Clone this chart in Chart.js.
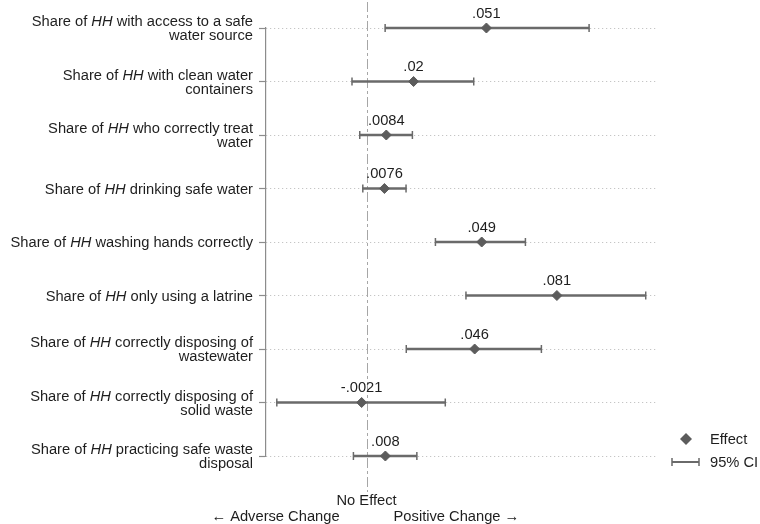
<!DOCTYPE html>
<html>
<head>
<meta charset="utf-8">
<script src="https://cdn.jsdelivr.net/npm/chart.js@4.4.1/dist/chart.umd.min.js"></script>
<style>
  html, body { margin: 0; padding: 0; background: #ffffff; }
  #wrap { width: 760px; height: 524px; }
</style>
</head>
<body>
<div id="wrap"><canvas id="c" width="760" height="524"></canvas></div>
<script>
// Outcome labels (each entry is a list of wrapped lines; "HH" is set in italics)
const categories = [
  ['Share of HH with access to a safe', 'water source'],
  ['Share of HH with clean water', 'containers'],
  ['Share of HH who correctly treat', 'water'],
  ['Share of HH drinking safe water'],
  ['Share of HH washing hands correctly'],
  ['Share of HH only using a latrine'],
  ['Share of HH correctly disposing of', 'wastewater'],
  ['Share of HH correctly disposing of', 'solid waste'],
  ['Share of HH practicing safe waste', 'disposal']
];

// Point estimates and 95% confidence bounds
const effects = [0.051, 0.02, 0.0084, 0.0076, 0.049, 0.081, 0.046, -0.0021, 0.008];
const ciLower = [0.0079, -0.0062, -0.0029, -0.0016, 0.0293, 0.0423, 0.0169, -0.0382, -0.0056];
const ciUpper = [0.0947, 0.0456, 0.0195, 0.0168, 0.0676, 0.1188, 0.0744, 0.0335, 0.0214];

// Horizontal axis extent
const xRange = [-0.0428, 0.1236];

const legendLabels = ['Effect', '95% CI'];
const zeroLabel = 'No Effect';
const directionLabels = ['\u2190 Adverse Change', 'Positive Change \u2192'];

// ---- styling ----
const FONT_FAMILY = '"Liberation Sans", Arial, Helvetica, sans-serif';
const FS = 14.7;
const HALF_CAP = FS * 0.36;
const TEXT = '#1e1e1e';
const MARK = '#5c5c5c';
const CI_COLOR = '#6a6a6a';
const fontOf = (italic) => (italic ? 'italic ' : '') + FS + 'px ' + FONT_FAMILY;

// "Share of .05" style number formatting (no leading zero)
const fmt = (v) => String(v).replace(/^(-?)0\./, '$1.');

// Draw a line of text right-aligned, with the "HH" token in italics
function drawRichRight(ctx, text, xRight, yMid) {
  const parts = text.split(/(HH)/).filter(s => s.length);
  const widths = parts.map(p => { ctx.font = fontOf(p === 'HH'); return ctx.measureText(p).width; });
  let x = xRight - widths.reduce((a, b) => a + b, 0);
  ctx.textAlign = 'left';
  ctx.textBaseline = 'alphabetic';
  parts.forEach((p, i) => {
    ctx.font = fontOf(p === 'HH');
    ctx.fillText(p, x, yMid + HALF_CAP);
    x += widths[i];
  });
}

function diamond(ctx, x, y, r) {
  ctx.beginPath();
  ctx.moveTo(x, y - r);
  ctx.lineTo(x + r, y);
  ctx.lineTo(x, y + r);
  ctx.lineTo(x - r, y);
  ctx.closePath();
  ctx.fill();
}

const annotate = {
  id: 'annotate',
  beforeDatasetsDraw(chart) {
    // dashed "no effect" reference line at zero
    const { ctx, chartArea, scales: { x } } = chart;
    const zx = Math.round(x.getPixelForValue(0)) + 0.5;
    ctx.save();
    ctx.strokeStyle = '#a6a6a6';
    ctx.lineWidth = 1;
    ctx.setLineDash([10, 3, 3, 3]);
    ctx.beginPath();
    ctx.moveTo(zx, chartArea.top - 26);
    ctx.lineTo(zx, chartArea.bottom + 36);
    ctx.stroke();
    ctx.restore();
  },
  afterDraw(chart) {
    const { ctx, chartArea, scales: { x, y } } = chart;
    ctx.save();
    ctx.fillStyle = TEXT;

    // category labels
    const labelRight = chartArea.left - 13;
    categories.forEach((lines, i) => {
      const cy = y.getPixelForValue(i);
      const lh = 14;
      const top = cy - (lines.length - 1) * lh / 2;
      lines.forEach((ln, k) => drawRichRight(ctx, ln, labelRight, top + k * lh));
    });

    // value labels above each estimate
    ctx.font = fontOf(false);
    ctx.textAlign = 'center';
    ctx.textBaseline = 'alphabetic';
    effects.forEach((v, i) => {
      ctx.fillText(fmt(v), x.getPixelForValue(v), y.getPixelForValue(i) - 10.5);
    });

    // zero label and direction hints
    const zx = x.getPixelForValue(0);
    ctx.fillText(zeroLabel, zx, chartArea.bottom + 44 + HALF_CAP);
    ctx.textAlign = 'right';
    ctx.fillText(directionLabels[0], zx - 27, chartArea.bottom + 60 + HALF_CAP);
    ctx.textAlign = 'left';
    ctx.fillText(directionLabels[1], zx + 27, chartArea.bottom + 60 + HALF_CAP);

    // legend
    const lx = chartArea.right + 29;
    const ly1 = chartArea.bottom - 17;
    const ly2 = chartArea.bottom + 6;
    ctx.fillStyle = MARK;
    diamond(ctx, lx, ly1, 6);
    ctx.strokeStyle = CI_COLOR;
    ctx.lineWidth = 2;
    ctx.beginPath();
    ctx.moveTo(lx - 14, ly2); ctx.lineTo(lx + 13, ly2);
    ctx.stroke();
    ctx.lineWidth = 1.5;
    ctx.beginPath();
    ctx.moveTo(lx - 14, ly2 - 4); ctx.lineTo(lx - 14, ly2 + 4);
    ctx.moveTo(lx + 13, ly2 - 4); ctx.lineTo(lx + 13, ly2 + 4);
    ctx.stroke();
    ctx.fillStyle = TEXT;
    ctx.font = fontOf(false);
    ctx.textAlign = 'left';
    ctx.fillText(legendLabels[0], lx + 24, ly1 + HALF_CAP);
    ctx.fillText(legendLabels[1], lx + 24, ly2 + HALF_CAP);
    ctx.restore();
  }
};

new Chart(document.getElementById('c'), {
  data: {
    datasets: [
      {
        type: 'scatter',
        label: legendLabels[0],
        data: effects.map((v, i) => ({ x: v, y: i })),
        pointStyle: 'rectRot',
        pointRadius: 5,
        pointBorderWidth: 1,
        backgroundColor: MARK,
        borderColor: MARK,
        clip: false,
        order: 0
      },
      {
        type: 'scatter',
        label: 'caps',
        data: categories.flatMap((_, i) => [{ x: ciLower[i], y: i }, { x: ciUpper[i], y: i }]),
        pointStyle: 'line',
        rotation: 90,
        pointRadius: 4,
        pointBorderWidth: 1.5,
        borderColor: CI_COLOR,
        backgroundColor: CI_COLOR,
        clip: false,
        order: 1
      },
      {
        type: 'bar',
        label: legendLabels[1],
        indexAxis: 'y',
        data: categories.map((_, i) => ({ x: [ciLower[i], ciUpper[i]], y: i })),
        barThickness: 2,
        backgroundColor: CI_COLOR,
        borderWidth: 0,
        clip: false,
        order: 2
      }
    ]
  },
  options: {
    responsive: false,
    animation: false,
    events: [],
    devicePixelRatio: 1,
    layout: { padding: { top: 28, bottom: 68, left: 0, right: 103 } },
    plugins: { legend: { display: false }, tooltip: { enabled: false } },
    scales: {
      x: {
        type: 'linear',
        min: xRange[0],
        max: xRange[1],
        display: false,
        grid: { display: false }
      },
      y: {
        type: 'linear',
        min: 0,
        max: categories.length - 1,
        reverse: true,
        offset: false,
        afterBuildTicks: (s) => { s.ticks = categories.map((_, i) => ({ value: i })); },
        afterFit: (s) => { s.width = 266; },
        ticks: { display: false },
        grid: {
          offset: false,
          color: '#b8b8b8',
          lineWidth: 1,
          drawTicks: true,
          tickLength: 7,
          tickColor: '#8c8c8c',
          tickWidth: 1.2,
          tickBorderDash: []
        },
        border: { display: true, color: '#8c8c8c', width: 1.2, dash: [1, 3] }
      }
    }
  },
  plugins: [annotate]
});
</script>
</body>
</html>
